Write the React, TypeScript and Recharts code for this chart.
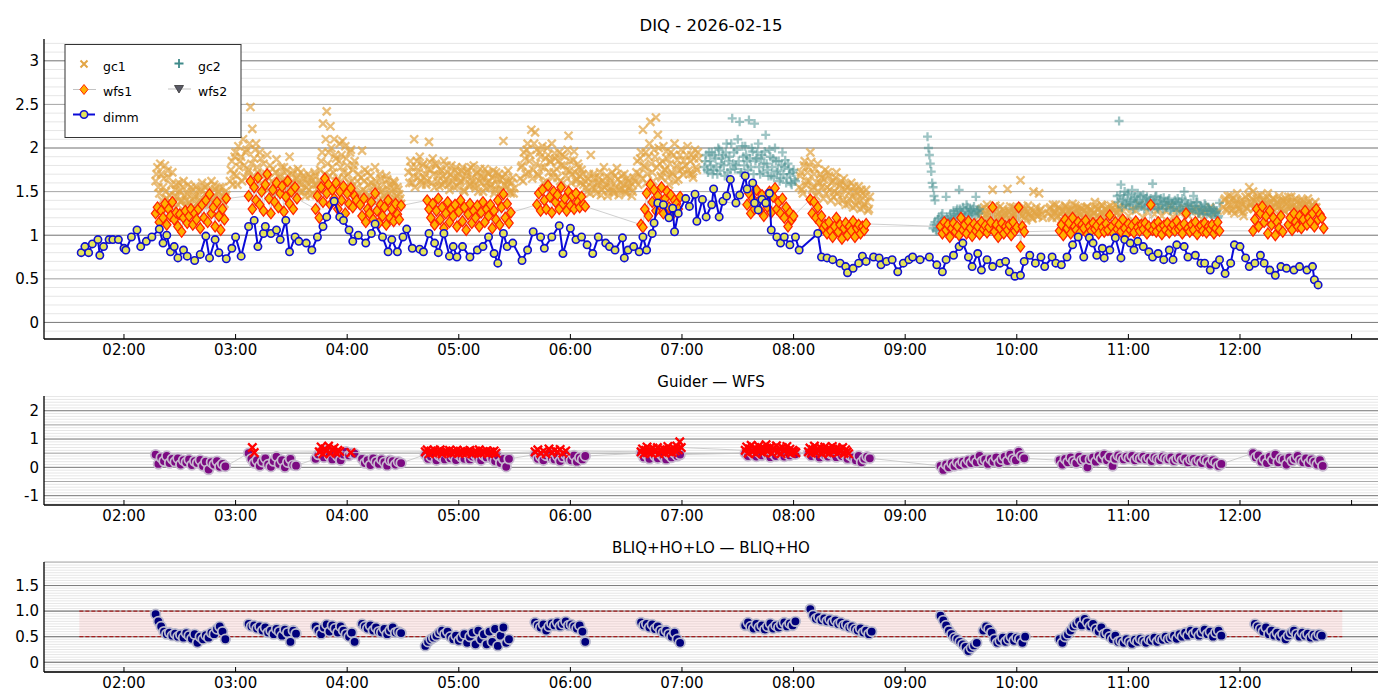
import React from 'react';
import { ScatterChart, Scatter, XAxis, YAxis, CartesianGrid, ReferenceArea, ReferenceLine } from 'recharts';

// times are minutes after 00:00 UT; a segment is [start minute, step in minutes, values]
type Seg = [number, number, number[]];
type Pt = { t: number; v: number };

const timeTicks = [120, 180, 240, 300, 360, 420, 480, 540, 600, 660, 720, 780];
const timeLabels = ['02:00', '03:00', '04:00', '05:00', '06:00', '07:00', '08:00', '09:00', '10:00', '11:00', '12:00', ''];

const diqTicks = [0, 0.5, 1, 1.5, 2, 2.5, 3];
const diqTickLabels = ['0', '0.5', '1', '1.5', '2', '2.5', '3'];
const wfsTicks = [-1, 0, 1, 2];
const bliqTicks = [0, 0.5, 1, 1.5];
const bliqTickLabels = ['0', '0.5', '1.0', '1.5'];
const bliqLimits = [0.5, 1.0];
const bliqSpan = [96, 775];

// DIMM seeing, [minute, arcsec]
const dimm: [number, number][] = [
  [97, 0.80], [99, 0.87], [101, 0.80], [103, 0.90], [106, 0.95], [107, 0.77], [109, 0.87], [112, 0.95], [114, 0.95], [117, 0.95],
  [120, 0.85], [121, 0.83], [124, 0.98], [127, 1.06], [129, 0.87], [132, 0.93], [135, 0.98], [139, 1.07], [141, 0.91], [143, 1.00],
  [145, 0.81], [147, 0.87], [149, 0.74], [152, 0.83], [154, 0.76], [158, 0.71], [161, 0.78], [164, 0.99], [166, 0.74], [169, 0.95],
  [171, 0.80], [175, 0.73], [178, 0.85], [180, 0.98], [183, 0.76], [187, 1.10], [190, 1.17], [192, 0.87], [195, 1.02], [196, 1.10],
  [199, 1.02], [202, 1.06], [204, 0.95], [207, 1.17], [209, 0.81], [212, 0.98], [214, 0.93], [218, 0.91], [221, 0.83], [224, 0.98],
  [227, 1.10], [229, 1.21], [233, 1.39], [236, 1.21], [238, 1.17], [241, 1.06], [243, 0.93], [246, 1.00], [250, 0.91], [253, 1.02],
  [255, 1.13], [259, 0.98], [262, 0.81], [264, 0.95], [267, 0.81], [270, 0.98], [272, 1.07], [275, 0.85], [279, 0.84], [281, 0.81],
  [284, 1.02], [287, 0.91], [289, 0.80], [292, 1.02], [295, 0.76], [297, 0.87], [299, 0.75], [302, 0.87], [306, 0.75], [310, 0.83],
  [313, 0.87], [316, 0.98], [319, 0.79], [321, 0.68], [324, 1.02], [326, 0.87], [329, 0.91], [334, 0.71], [337, 0.83], [340, 1.04],
  [344, 0.98], [346, 0.85], [350, 0.98], [354, 1.11], [356, 0.79], [360, 1.08], [363, 0.95], [366, 0.98], [369, 0.89], [372, 0.79],
  [375, 0.98], [379, 0.91], [381, 0.87], [384, 0.83], [388, 0.97], [389, 0.74], [391, 0.83], [394, 0.87], [397, 0.81], [399, 0.98],
  [401, 0.83], [404, 1.02], [405, 1.14], [407, 1.37], [410, 1.35], [413, 1.20], [415, 1.31], [416, 1.04], [418, 1.25], [422, 1.42],
  [424, 1.33], [427, 1.47], [428, 1.16], [431, 1.41], [433, 1.21], [436, 1.35], [437, 1.53], [440, 1.21], [442, 1.39], [444, 1.45],
  [446, 1.64], [449, 1.37], [451, 1.46], [454, 1.68], [455, 1.53], [458, 1.60], [459, 1.37], [461, 1.29], [463, 1.41], [465, 1.37],
  [467, 1.48], [468, 1.06], [471, 0.98], [473, 0.91], [475, 0.98], [478, 0.89], [481, 0.98], [483, 0.83], [493, 1.02], [495, 0.75],
  [498, 0.74], [501, 0.72], [505, 0.68], [508, 0.64], [509, 0.57], [512, 0.62], [515, 0.68], [517, 0.76], [519, 0.70], [523, 0.75],
  [526, 0.74], [527, 0.66], [530, 0.70], [533, 0.72], [536, 0.58], [539, 0.68], [542, 0.72], [544, 0.75], [548, 0.72], [553, 0.75],
  [557, 0.66], [560, 0.58], [562, 0.72], [566, 0.77], [569, 0.87], [571, 0.91], [574, 0.75], [576, 0.64], [579, 0.79], [581, 0.60],
  [584, 0.72], [587, 0.64], [591, 0.68], [594, 0.70], [596, 0.58], [599, 0.53], [602, 0.54], [604, 0.70], [607, 0.77], [610, 0.68],
  [613, 0.75], [615, 0.64], [619, 0.75], [621, 0.68], [624, 0.66], [627, 0.75], [630, 0.89], [633, 0.98], [636, 0.75], [639, 0.97],
  [641, 0.91], [643, 0.77], [646, 0.85], [647, 0.74], [650, 0.83], [653, 0.97], [656, 0.74], [658, 0.95], [661, 0.91], [663, 0.83],
  [665, 0.93], [668, 0.87], [671, 0.81], [673, 0.75], [676, 0.79], [679, 0.72], [682, 0.83], [684, 0.72], [686, 0.89], [690, 0.87],
  [692, 0.75], [696, 0.77], [699, 0.68], [701, 0.68], [704, 0.60], [707, 0.66], [709, 0.72], [712, 0.56], [715, 0.68], [717, 0.89],
  [720, 0.87], [723, 0.74], [725, 0.64], [728, 0.68], [731, 0.77], [733, 0.68], [736, 0.60], [739, 0.54], [742, 0.64], [745, 0.62],
  [749, 0.60], [752, 0.64], [756, 0.60], [759, 0.64], [760, 0.49], [762, 0.43],
];

const gc1Segs: Seg[] = [
  [137, 1, [1.62, 1.78, 1.48, 1.70, 1.55, 1.80, 1.42, 1.66, 1.38, 1.72, 1.45, 1.58, 1.35, 1.50, 1.40, 1.62, 1.33, 1.47, 1.38, 1.55, 1.32, 1.44, 1.36, 1.52, 1.40, 1.60, 1.35, 1.48, 1.57, 1.38, 1.62, 1.45, 1.53, 1.33, 1.50, 1.42, 1.55, 1.36, 1.46]],
  [137.5, 1, [1.70, 1.55, 1.82, 1.40, 1.65, 1.50, 1.74, 1.46, 1.58, 1.36, 1.52, 1.44, 1.60, 1.38, 1.55, 1.46, 1.40, 1.58, 1.34, 1.50, 1.42, 1.56, 1.30, 1.46, 1.52, 1.38, 1.55, 1.42, 1.35, 1.50, 1.40, 1.58, 1.37, 1.48, 1.55, 1.33, 1.44, 1.50]],
  [177, 1, [1.62, 1.85, 1.70, 1.95, 1.58, 1.78, 1.90, 2.10, 1.66, 1.98, 1.75, 2.47, 2.22, 1.88, 2.05, 1.72, 1.95, 1.60, 1.82]],
  [177.5, 1, [1.75, 1.58, 1.90, 1.68, 2.02, 1.85, 1.62, 1.80, 1.95, 1.72, 2.05, 1.82, 1.68, 1.98, 1.78, 1.62, 1.88, 1.70]],
  [196, 1, [1.55, 1.92, 1.65, 1.48, 1.76, 1.58, 1.87, 1.50, 1.70, 1.62, 1.78, 1.52, 1.68, 1.90, 1.57, 1.74, 1.48, 1.66, 1.60, 1.72, 1.50, 1.64, 1.55, 1.70, 1.46, 1.62, 1.58, 1.68, 1.52]],
  [196.5, 1, [1.70, 1.52, 1.80, 1.62, 1.55, 1.72, 1.48, 1.66, 1.78, 1.56, 1.62, 1.74, 1.50, 1.60, 1.70, 1.54, 1.64, 1.76, 1.50, 1.58, 1.68, 1.45, 1.60, 1.52, 1.66, 1.48, 1.72, 1.58]],
  [225, 1, [1.62, 1.85, 2.28, 1.70, 2.42, 1.95, 2.25, 1.78, 2.10, 1.88, 1.65, 2.05, 1.92, 1.72, 2.02, 1.80, 1.60, 1.98, 1.75, 1.85]],
  [225.5, 1, [1.75, 1.95, 1.58, 2.10, 1.82, 1.68, 2.00, 1.72, 1.92, 1.62, 1.85, 1.78, 2.08, 1.66, 1.88, 1.70, 1.95, 1.62, 1.80]],
  [245, 1, [1.55, 1.70, 1.45, 1.97, 1.62, 1.50, 1.72, 1.42, 1.60, 1.48, 1.78, 1.55, 1.40, 1.65, 1.52, 1.45, 1.68, 1.38, 1.58, 1.50, 1.62, 1.42, 1.55, 1.47, 1.36]],
  [245.5, 1, [1.62, 1.48, 1.66, 1.52, 1.75, 1.44, 1.58, 1.68, 1.40, 1.56, 1.62, 1.46, 1.70, 1.50, 1.58, 1.42, 1.64, 1.48, 1.55, 1.40, 1.60, 1.45, 1.52, 1.42]],
  [273, 1, [1.72, 1.85, 1.60, 2.10, 1.78, 1.66, 1.90, 1.58, 1.82, 1.70, 1.62, 2.07, 1.75, 1.88, 1.55, 1.80, 1.68, 1.76, 1.58, 1.85, 1.64, 1.72, 1.52, 1.80, 1.66, 1.74, 1.56, 1.70, 1.62, 1.78, 1.50, 1.68, 1.75, 1.58, 1.66, 1.80, 1.54, 1.72, 1.62, 1.68, 1.50, 1.76, 1.60, 1.70, 1.55, 1.66, 1.48, 1.72, 1.58, 1.64, 1.52, 2.08, 1.70, 1.56, 1.62, 1.48, 1.66, 1.54]],
  [273.5, 1, [1.60, 1.78, 1.68, 1.55, 1.85, 1.72, 1.62, 1.80, 1.66, 1.58, 1.76, 1.84, 1.60, 1.70, 1.82, 1.62, 1.56, 1.74, 1.68, 1.60, 1.80, 1.58, 1.70, 1.62, 1.55, 1.78, 1.66, 1.60, 1.74, 1.52, 1.64, 1.72, 1.56, 1.78, 1.62, 1.58, 1.70, 1.50, 1.76, 1.60, 1.66, 1.54, 1.72, 1.62, 1.58, 1.74, 1.52, 1.64, 1.70, 1.50, 1.66, 1.58, 1.62, 1.74, 1.50, 1.60, 1.48]],
  [333, 1, [1.65, 1.80, 1.95, 1.70, 2.05, 1.85, 2.21, 1.75, 2.18, 1.98, 1.68, 1.90, 2.02, 1.78, 1.62, 1.92, 1.85, 2.05, 1.72, 1.88, 1.66, 1.95, 1.80, 1.60, 1.90, 1.75, 2.14, 1.85, 1.70, 1.96, 1.62, 1.82, 1.68, 1.75, 1.58]],
  [333.5, 1, [1.78, 1.62, 1.88, 1.98, 1.72, 1.92, 1.65, 2.05, 1.82, 1.70, 1.95, 1.78, 1.60, 1.88, 2.00, 1.72, 1.84, 1.66, 1.94, 1.76, 1.85, 1.62, 1.92, 1.80, 1.68, 1.98, 1.74, 1.60, 1.86, 1.72, 1.64, 1.78, 1.60, 1.70]],
  [368, 1, [1.62, 1.50, 1.70, 1.92, 1.55, 1.66, 1.48, 1.60, 1.72, 1.52, 1.78, 1.58, 1.45, 1.65, 1.55, 1.50, 1.68, 1.77, 1.46, 1.60, 1.53, 1.70, 1.48, 1.62, 1.56, 1.45, 1.66]],
  [368.5, 1, [1.55, 1.65, 1.48, 1.60, 1.70, 1.52, 1.58, 1.66, 1.46, 1.62, 1.55, 1.68, 1.50, 1.60, 1.72, 1.48, 1.56, 1.64, 1.52, 1.68, 1.58, 1.50, 1.65, 1.54, 1.60, 1.50]],
  [395, 1, [1.62, 1.85, 1.70, 1.95, 2.21, 1.78, 1.60, 1.90, 2.30, 1.72, 1.98, 2.35, 2.15, 1.82, 1.66, 2.02, 1.75, 1.88, 1.58, 1.95, 1.70, 2.05, 1.80, 1.64, 1.92, 1.76, 1.85]],
  [395.5, 1, [1.72, 1.58, 1.88, 1.65, 1.80, 1.95, 1.70, 2.05, 1.82, 1.62, 1.90, 1.78, 2.00, 1.68, 1.85, 1.75, 1.96, 1.66, 1.82, 1.72, 1.92, 1.62, 1.86, 1.74, 1.98, 1.70]],
  [422, 1, [1.80, 2.02, 1.70, 1.92, 1.66, 1.98, 1.75, 1.88]],
  [422.5, 1, [1.92, 1.74, 1.85, 1.70, 1.88, 1.78, 1.95]],
  [483, 1, [1.55, 1.72, 1.48, 1.85, 1.62, 1.78, 1.95, 1.52, 1.70, 1.45, 1.82, 1.60, 1.66, 1.42, 1.75, 1.55, 1.68, 1.40, 1.62, 1.50, 1.72, 1.38, 1.58, 1.46, 1.65, 1.35, 1.55, 1.42, 1.60, 1.32, 1.50, 1.40, 1.56, 1.30, 1.48, 1.36, 1.52, 1.28, 1.44]],
  [483.5, 1, [1.68, 1.52, 1.80, 1.58, 1.72, 1.62, 1.84, 1.55, 1.76, 1.60, 1.50, 1.70, 1.56, 1.64, 1.48, 1.72, 1.52, 1.60, 1.44, 1.66, 1.48, 1.56, 1.62, 1.40, 1.52, 1.58, 1.36, 1.50, 1.44, 1.56, 1.34, 1.48, 1.40, 1.52, 1.32, 1.45, 1.38, 1.30]],
  [580, 1, [1.22, 1.30, 1.18, 1.28, 1.35, 1.20, 1.26, 1.52, 1.16, 1.30, 1.24, 1.33, 1.18, 1.28, 1.22, 1.53, 1.26, 1.18, 1.32, 1.24, 1.20, 1.30, 1.63, 1.22, 1.28, 1.17, 1.34, 1.25, 1.20, 1.50, 1.27, 1.22, 1.48, 1.30, 1.20]],
  [580.5, 1, [1.28, 1.20, 1.32, 1.24, 1.18, 1.30, 1.22, 1.27, 1.34, 1.19, 1.26, 1.21, 1.30, 1.25, 1.18, 1.28, 1.33, 1.22, 1.26, 1.30, 1.18, 1.25, 1.29, 1.33, 1.21, 1.27, 1.24, 1.30, 1.19, 1.26, 1.32, 1.22, 1.28, 1.24]],
  [617, 1, [1.25, 1.32, 1.20, 1.28, 1.35, 1.22, 1.30, 1.18, 1.27, 1.34, 1.22, 1.29, 1.24, 1.36, 1.20, 1.28, 1.32, 1.23, 1.30, 1.19, 1.26, 1.33, 1.21, 1.29, 1.25, 1.38, 1.22, 1.30, 1.26, 1.34, 1.20, 1.28, 1.32, 1.24, 1.30, 1.22, 1.35, 1.26, 1.30]],
  [617.5, 1, [1.30, 1.22, 1.35, 1.26, 1.20, 1.32, 1.24, 1.29, 1.21, 1.33, 1.27, 1.19, 1.30, 1.25, 1.34, 1.22, 1.27, 1.31, 1.20, 1.28, 1.32, 1.24, 1.30, 1.22, 1.26, 1.33, 1.29, 1.21, 1.35, 1.25, 1.30, 1.23, 1.27, 1.34, 1.21, 1.29, 1.25, 1.32]],
  [656, 2, [1.25, 1.32, 1.22, 1.30, 1.28, 1.35, 1.20, 1.27, 1.33, 1.24, 1.30, 1.22, 1.28, 1.34, 1.21, 1.29, 1.25, 1.31, 1.23, 1.27, 1.30, 1.22, 1.28, 1.25, 1.32, 1.24, 1.28]],
  [711, 1, [1.32, 1.42, 1.28, 1.38, 1.45, 1.30, 1.25, 1.40, 1.34, 1.28, 1.36, 1.22, 1.44, 1.30, 1.55, 1.38, 1.50, 1.32, 1.42, 1.28, 1.46, 1.35, 1.40, 1.30, 1.48, 1.36, 1.26, 1.42, 1.33, 1.38, 1.45, 1.30, 1.40, 1.28, 1.36, 1.44, 1.32, 1.38, 1.25, 1.42, 1.30, 1.36, 1.28, 1.40, 1.33, 1.26, 1.38, 1.30, 1.35, 1.28, 1.32]],
  [711.5, 1, [1.40, 1.30, 1.45, 1.35, 1.28, 1.42, 1.36, 1.48, 1.30, 1.40, 1.26, 1.38, 1.32, 1.46, 1.35, 1.42, 1.30, 1.38, 1.45, 1.34, 1.28, 1.40, 1.36, 1.44, 1.30, 1.38, 1.42, 1.28, 1.36, 1.32, 1.40, 1.35, 1.28, 1.42, 1.38, 1.30, 1.44, 1.34, 1.30, 1.38, 1.26, 1.40, 1.34, 1.30, 1.36, 1.42, 1.28, 1.34, 1.30, 1.38]],
];

const gc2Segs: Seg[] = [
  [432, 1, [1.78, 1.92, 1.72, 1.85, 1.95, 1.75, 1.88, 1.70, 1.98, 1.82, 1.92, 1.68, 2.05, 1.85, 1.75, 2.34, 1.95, 1.80, 2.10, 2.30, 1.72, 1.90, 2.02, 1.85, 2.32, 1.78, 1.96, 2.28, 1.88, 2.05, 1.70, 1.92, 1.82, 2.15, 1.75, 1.98, 1.68, 1.88, 2.00, 1.72, 1.85, 1.65, 1.95, 1.78, 1.60, 1.82, 1.70, 1.58, 1.75, 1.62]],
  [432.5, 1, [1.85, 1.75, 1.95, 1.80, 1.70, 1.92, 1.78, 2.00, 1.74, 1.88, 1.80, 1.95, 1.72, 1.90, 2.05, 1.82, 1.76, 1.98, 1.85, 1.72, 2.02, 1.80, 1.92, 1.75, 1.88, 2.00, 1.70, 1.85, 1.95, 1.78, 1.88, 1.72, 1.96, 1.82, 1.68, 1.90, 1.78, 1.66, 1.85, 1.74, 1.62, 1.80, 1.70, 1.86, 1.66, 1.76, 1.60, 1.72, 1.64]],
  [552, 0.5, [2.13, 2.0, 1.92, 1.82, 1.73, 1.6, 1.55, 1.45, 1.4]],
  [555, 1, [1.08, 1.15, 1.05, 1.20, 1.12, 1.25, 1.10, 1.44, 1.18, 1.22, 1.14, 1.28, 1.20, 1.30, 1.52, 1.24, 1.32, 1.22, 1.35, 1.26, 1.30, 1.24, 1.33, 1.44, 1.28, 1.30]],
  [555.5, 1, [1.12, 1.06, 1.18, 1.10, 1.22, 1.08, 1.16, 1.20, 1.14, 1.25, 1.18, 1.24, 1.28, 1.22, 1.30, 1.26, 1.20, 1.28, 1.32, 1.24, 1.27, 1.30, 1.22, 1.28, 1.25]],
  [654, 1, [1.45, 2.31, 1.58, 1.40, 1.50, 1.35, 1.46, 1.38, 1.52, 1.42, 1.36, 1.48, 1.40, 1.33, 1.46, 1.38, 1.44, 1.32, 1.42, 1.59, 1.36, 1.45, 1.30, 1.40, 1.35, 1.43, 1.32, 1.38, 1.42, 1.30, 1.36, 1.40, 1.28, 1.38, 1.33, 1.42, 1.50, 1.30, 1.36, 1.27, 1.34, 1.45, 1.30, 1.38, 1.25, 1.33, 1.28, 1.36, 1.24, 1.32, 1.28, 1.22, 1.30, 1.26, 1.20, 1.37]],
  [654.5, 1, [1.38, 1.46, 1.32, 1.42, 1.36, 1.48, 1.34, 1.40, 1.30, 1.44, 1.38, 1.32, 1.45, 1.36, 1.30, 1.42, 1.35, 1.40, 1.30, 1.38, 1.44, 1.32, 1.36, 1.42, 1.30, 1.38, 1.34, 1.40, 1.28, 1.36, 1.32, 1.38, 1.42, 1.30, 1.36, 1.28, 1.40, 1.34, 1.30, 1.37, 1.28, 1.33, 1.38, 1.26, 1.32, 1.30, 1.24, 1.34, 1.28, 1.30, 1.24, 1.32, 1.26, 1.28, 1.22]],
];

const wfs1Segs: Seg[] = [
  [137, 1, [1.25, 1.32, 1.15, 1.28, 1.20, 1.36, 1.12, 1.30, 1.22, 1.38, 1.18, 1.26, 1.10, 1.24, 1.04, 1.20, 1.28, 1.14, 1.22, 1.30, 1.12, 1.25, 1.18, 1.30, 1.08, 1.35, 1.20, 1.40, 1.15, 1.47, 1.25, 1.32, 1.10, 1.38, 1.22, 1.06, 1.30, 1.18, 1.42]],
  [187, 1, [1.45, 1.62, 1.30, 1.55, 1.40, 1.66, 1.35, 1.50, 1.28, 1.58, 1.70, 1.42, 1.25, 1.52, 1.38, 1.60, 1.32, 1.48, 1.56, 1.27, 1.44, 1.62, 1.36, 1.50, 1.30, 1.55, 1.42]],
  [223, 1, [1.30, 1.45, 1.20, 1.55, 1.38, 1.65, 1.48, 1.58, 1.35, 1.52, 1.42, 1.60, 1.30, 1.50, 1.40, 1.56, 1.25, 1.48, 1.36, 1.54, 1.32, 1.45, 1.40]],
  [247, 1, [1.35, 1.22, 1.42, 1.15, 1.30, 1.25, 1.38, 1.18, 1.48, 1.28, 1.14, 1.35, 1.22, 1.32, 1.12, 1.40, 1.20, 1.30, 1.16, 1.36, 1.24, 1.18, 1.34]],
  [283, 1, [1.40, 1.30, 1.20, 1.36, 1.12, 1.28, 1.42, 1.18, 1.32, 1.08, 1.25, 1.38, 1.15, 1.30, 1.22, 1.35, 1.10, 1.27, 1.40, 1.16, 1.32, 1.06, 1.24, 1.36, 1.14, 1.28, 1.20, 1.34, 1.10, 1.26, 1.38, 1.15, 1.30, 1.22, 1.35, 1.08, 1.28, 1.18, 1.40, 1.12, 1.32, 1.47, 1.20, 1.36, 1.14, 1.26]],
  [342, 1, [1.35, 1.48, 1.28, 1.52, 1.40, 1.30, 1.57, 1.44, 1.26, 1.50, 1.38, 1.46, 1.30, 1.55, 1.36, 1.42, 1.28, 1.50, 1.34, 1.45, 1.30, 1.48, 1.38, 1.32, 1.44, 1.35, 1.33]],
  [398, 1, [1.12, 1.09, 1.30, 1.48, 1.22, 1.58, 1.38, 1.52, 1.28, 1.45, 1.35, 1.55, 1.25, 1.42, 1.50, 1.32, 1.46, 1.24, 1.40, 1.36, 1.30, 1.44]],
  [455, 1, [1.35, 1.48, 1.25, 1.42, 1.30, 1.52, 1.38, 1.28, 1.46, 1.22, 1.40, 1.32, 1.50, 1.26, 1.44, 1.54, 1.30, 1.38, 1.25, 1.42, 1.20, 1.32, 1.10, 1.26, 1.18, 1.22]],
  [489, 1, [1.41, 1.25, 1.38, 1.20, 1.32, 1.15, 1.22, 1.08, 1.12, 1.02, 1.15, 1.05, 0.98, 1.10, 1.20, 1.04, 1.12, 0.96, 1.08, 1.14, 1.00, 1.10, 1.05, 1.16, 0.98, 1.08, 1.12, 1.02, 1.10, 1.06, 1.13]],
  [559, 1, [1.10, 1.02, 1.15, 1.06, 1.12, 0.98, 1.08, 1.14, 1.04, 1.10, 1.00, 1.20, 1.06, 1.12, 1.02, 1.16, 1.08, 0.99, 1.13, 1.05, 1.10, 1.01, 1.15, 1.07, 1.11, 1.03, 1.09, 1.15, 1.32, 1.04, 1.12, 0.98, 1.08, 1.14, 1.02, 1.10, 1.06, 1.12, 1.00, 1.15, 1.05, 1.09, 1.32, 0.87, 1.10, 1.04]],
  [623, 1, [1.05, 1.12, 1.00, 1.18, 1.08, 1.14, 1.02, 1.20, 1.10, 1.06, 1.15, 1.03, 1.12, 1.08, 1.17, 1.01, 1.10, 1.05, 1.14, 1.07, 1.11, 1.02, 1.16, 1.09, 1.04, 1.13, 1.06, 1.23, 1.10, 1.02, 1.15, 1.07, 1.12, 1.04, 1.18, 1.08, 1.01, 1.13, 1.06, 1.11, 1.03, 1.16, 1.09, 1.05, 1.12, 1.07, 1.14, 1.02, 1.10, 1.35, 1.06, 1.12, 1.04, 1.15, 1.08, 1.01, 1.11, 1.06, 1.14, 1.03, 1.09, 1.12, 1.05, 1.16, 1.07, 1.10, 1.02, 1.13, 1.25, 1.08, 1.04, 1.12, 1.06, 1.15, 1.01, 1.09, 1.11, 1.05, 1.14, 1.03, 1.10, 1.07, 1.12, 1.02, 1.08, 1.15, 1.05]],
  [727, 1, [1.05, 1.18, 1.30, 1.10, 1.25, 1.33, 1.15, 1.22, 1.02, 1.28, 1.12, 1.20, 1.00, 1.15, 1.08, 1.22, 1.04]],
  [746, 1, [1.12, 1.20, 1.06, 1.25, 1.15, 1.10, 1.22, 1.08, 1.18, 1.28, 1.12, 1.20, 1.15, 1.25, 1.10, 1.30, 1.18, 1.24, 1.20, 1.08]],
];

// Guider - WFS
const guiderSegs: Seg[] = [
  [137, 1.5, [0.45, 0.12, 0.35, 0.22, 0.40, 0.15, 0.30, 0.20, 0.32, 0.10, 0.25, 0.18, 0.28, 0.08, 0.22, 0.15, 0.26, 0.05, 0.20, -0.08, 0.18, 0.10, 0.22, 0.02, 0.12, 0.03]],
  [187, 1.5, [0.50, 0.30, 0.15, 0.25, 0.05, 0.20, 0.32, 0.10, 0.02, 0.22, 0.38, 0.12, 0.25, 0.00, 0.18, 0.30, 0.08, 0.06]],
  [223, 1.5, [0.30, 0.45, 0.55, 0.35, 0.60, 0.40, 0.28, 0.50, 0.38, 0.25, 0.45, 0.55, 0.42, 0.50, 0.48]],
  [248, 1.5, [0.30, 0.15, 0.25, 0.08, 0.32, 0.20, 0.12, 0.28, 0.18, 0.06, 0.25, 0.22, 0.10, 0.20, 0.15]],
  [282, 1.5, [0.45, 0.30, 0.38, 0.50, 0.25, 0.42, 0.35, 0.28, 0.48, 0.32, 0.40, 0.26, 0.45, 0.36, 0.30, 0.50, 0.28, 0.38, 0.44, 0.32, 0.25, 0.42, 0.35, 0.48, 0.30, 0.22, 0.40, 0.15, 0.30, 0.02, 0.30]],
  [341, 1.5, [0.45, 0.30, 0.38, 0.25, 0.42, 0.50, 0.32, 0.28, 0.40, 0.22, 0.36, 0.45, 0.30, 0.25, 0.42, 0.20, 0.35, 0.28, 0.40]],
  [398, 1.5, [0.50, 0.35, 0.45, 0.30, 0.55, 0.40, 0.32, 0.48, 0.38, 0.28, 0.45, 0.35, 0.50, 0.40, 0.45]],
  [454, 1.5, [0.50, 0.40, 0.55, 0.45, 0.38, 0.52, 0.42, 0.60, 0.45, 0.36, 0.50, 0.40, 0.55, 0.44, 0.38, 0.48, 0.42, 0.52, 0.46]],
  [488, 1.5, [0.50, 0.40, 0.55, 0.45, 0.35, 0.50, 0.42, 0.38, 0.48, 0.44, 0.36, 0.52, 0.40, 0.46, 0.30, 0.42, 0.35, 0.25, 0.40, 0.18, 0.30, 0.38, 0.32]],
  [559, 1.5, [0.05, -0.09, 0.10, 0.00, 0.15, 0.05, 0.18, 0.08, 0.20, 0.12, 0.25, 0.15, 0.30, 0.18, 0.40, 0.22, 0.28, 0.12, 0.30, 0.20, 0.35, 0.15, 0.28, 0.38, 0.22, 0.45, 0.30, 0.25, 0.55, 0.40, 0.32]],
  [623, 1.5, [0.25, 0.10, 0.30, 0.18, 0.35, 0.22, 0.15, 0.38, 0.25, 0.30, 0.00, 0.28, 0.35, 0.20, 0.40, 0.30, 0.45, 0.25, 0.38, 0.05, 0.30, 0.42, 0.35, 0.28, 0.38, 0.32, 0.40, 0.25, 0.35, 0.30, 0.38, 0.28, 0.34, 0.22, 0.36, 0.30, 0.26, 0.38, 0.32, 0.28, 0.35, 0.22, 0.30, 0.36, 0.25, 0.32, 0.18, 0.28, 0.30, 0.20, 0.26, 0.15, 0.28, 0.22, 0.10, 0.25, 0.18, 0.05, 0.12]],
  [727, 1.5, [0.50, 0.35, 0.42, 0.20, 0.30, 0.15, 0.38, 0.25, 0.45, 0.18, 0.32, 0.28, 0.10, 0.35, 0.22, 0.30, 0.40, 0.25, 0.18, 0.32, 0.15, 0.28, 0.20, 0.10, 0.25, 0.05]],
];

const wfsRedSegs: Seg[] = [
  [189, 1, [0.70, 0.52]],
  [225, 1, [0.55, 0.72, 0.48, 0.65, 0.58, 0.75, 0.50, 0.62, 0.68, 0.52, 0.60, 0.56]],
  [242, 1, [0.52]],
  [282, 1, [0.55, 0.62, 0.48, 0.58, 0.52, 0.60, 0.50, 0.56, 0.62, 0.48, 0.55, 0.58, 0.52, 0.60, 0.50, 0.57, 0.53, 0.61, 0.49, 0.56, 0.52, 0.58, 0.50, 0.55, 0.60, 0.48, 0.54, 0.58, 0.51, 0.62, 0.50, 0.56, 0.53, 0.59, 0.48, 0.55, 0.52, 0.58, 0.50]],
  [341, 1.5, [0.55, 0.62, 0.50, 0.58, 0.48, 0.65, 0.52, 0.60, 0.55, 0.63, 0.50, 0.58]],
  [398, 0.8, [0.55, 0.65, 0.48, 0.60, 0.72, 0.52, 0.62, 0.50, 0.68, 0.56, 0.58, 0.70, 0.48, 0.62, 0.54, 0.66, 0.50, 0.60, 0.74, 0.55, 0.63, 0.52, 0.68, 0.58, 0.75, 0.62, 0.90, 0.70]],
  [454, 0.8, [0.60, 0.72, 0.50, 0.65, 0.78, 0.55, 0.68, 0.48, 0.62, 0.75, 0.58, 0.70, 0.52, 0.66, 0.80, 0.56, 0.64, 0.72, 0.50, 0.68, 0.60, 0.76, 0.54, 0.66, 0.48, 0.70, 0.58, 0.62, 0.74, 0.55, 0.64, 0.50, 0.60, 0.56, 0.52]],
  [488, 0.8, [0.55, 0.68, 0.50, 0.62, 0.75, 0.52, 0.65, 0.58, 0.70, 0.48, 0.60, 0.72, 0.54, 0.66, 0.50, 0.63, 0.74, 0.56, 0.60, 0.68, 0.52, 0.64, 0.58, 0.70, 0.50, 0.62, 0.55, 0.48]],
];

// BLIQ+HO+LO - BLIQ+HO
const bliqSegs: Seg[] = [
  [137, 1.5, [0.94, 0.80, 0.70, 0.60, 0.55, 0.58, 0.52, 0.56, 0.50, 0.54, 0.48, 0.57, 0.52, 0.46, 0.55, 0.38, 0.50, 0.45, 0.53, 0.48, 0.58, 0.55, 0.65, 0.70, 0.60, 0.45]],
  [187, 1.5, [0.75, 0.70, 0.72, 0.66, 0.70, 0.62, 0.68, 0.58, 0.62, 0.55, 0.65, 0.60, 0.52, 0.64, 0.58, 0.40, 0.62, 0.56]],
  [223, 1.5, [0.70, 0.62, 0.55, 0.68, 0.74, 0.60, 0.72, 0.66, 0.58, 0.70, 0.62, 0.55, 0.50, 0.58, 0.40]],
  [248, 1.5, [0.75, 0.70, 0.66, 0.72, 0.62, 0.68, 0.60, 0.58, 0.65, 0.55, 0.62, 0.68, 0.58, 0.60, 0.57]],
  [282, 1.5, [0.32, 0.40, 0.45, 0.48, 0.52, 0.58, 0.62, 0.55, 0.60, 0.50, 0.45, 0.52, 0.42, 0.48, 0.55, 0.38, 0.50, 0.58, 0.35, 0.62, 0.45, 0.55, 0.35, 0.60, 0.40, 0.65, 0.32, 0.52, 0.68, 0.38, 0.45]],
  [341, 1.5, [0.78, 0.72, 0.68, 0.74, 0.62, 0.70, 0.76, 0.72, 0.78, 0.70, 0.75, 0.80, 0.72, 0.74, 0.70, 0.66, 0.72, 0.60, 0.40]],
  [398, 1.5, [0.78, 0.72, 0.75, 0.68, 0.74, 0.65, 0.70, 0.62, 0.58, 0.62, 0.55, 0.50, 0.58, 0.45, 0.38]],
  [454, 1.5, [0.72, 0.78, 0.70, 0.66, 0.75, 0.68, 0.72, 0.64, 0.70, 0.76, 0.66, 0.72, 0.68, 0.74, 0.78, 0.70, 0.76, 0.72, 0.80]],
  [489, 1.5, [1.04, 0.92, 0.85, 0.88, 0.82, 0.86, 0.80, 0.84, 0.78, 0.82, 0.75, 0.78, 0.72, 0.74, 0.68, 0.70, 0.65, 0.62, 0.66, 0.58, 0.62, 0.55, 0.60]],
  [559, 1.5, [0.91, 0.82, 0.72, 0.62, 0.55, 0.48, 0.45, 0.40, 0.35, 0.30, 0.22, 0.28, 0.33, 0.38]],
  [582, 1.5, [0.62, 0.70, 0.65, 0.58, 0.45, 0.38, 0.42, 0.48, 0.40, 0.45, 0.50, 0.42, 0.48, 0.45, 0.38, 0.50]],
  [623, 1.5, [0.45, 0.38, 0.50, 0.55, 0.62, 0.70, 0.75, 0.80, 0.72, 0.85, 0.78, 0.70, 0.75, 0.65, 0.60, 0.68, 0.55, 0.58, 0.50, 0.45, 0.52, 0.40, 0.42, 0.38, 0.45, 0.40, 0.36, 0.44, 0.40, 0.46, 0.42, 0.38, 0.45, 0.42, 0.48, 0.40, 0.46, 0.44, 0.50, 0.45, 0.48, 0.52, 0.46, 0.55, 0.50, 0.58, 0.52, 0.62, 0.55, 0.60, 0.52, 0.58, 0.64, 0.55, 0.60, 0.50, 0.58, 0.62, 0.52]],
  [728, 1.5, [0.75, 0.70, 0.65, 0.60, 0.68, 0.55, 0.62, 0.52, 0.58, 0.50, 0.55, 0.45, 0.52, 0.58, 0.62, 0.55, 0.50, 0.58, 0.52, 0.56, 0.48, 0.54, 0.50, 0.55, 0.52]],
];

const segPoints = ([t0, dt, vals]: Seg): Pt[] => vals.map((v, i) => ({ t: Math.round((t0 + i * dt) * 100) / 100, v }));
const allPoints = (segs: Seg[]): Pt[] => segs.flatMap(segPoints);

const dimmData = dimm.map(([t, v]) => ({ t, v }));
const gc1Data = allPoints(gc1Segs);
const gc2Data = allPoints(gc2Segs);
const wfs1Data = allPoints(wfs1Segs);
const guiderData = allPoints(guiderSegs);
const wfsRedData = allPoints(wfsRedSegs);
const bliqData = allPoints(bliqSegs);

const FONT = '"DejaVu Sans", sans-serif';
const X_DOMAIN: [number, number] = [77, 794.2];

// grid line positions (styling only)
const steps = (from: number, to: number, step: number) => {
  const out: number[] = [];
  for (let i = Math.round(from / step); i * step <= to + 1e-9; i++) out.push(Math.round(i * step * 1000) / 1000);
  return out;
};

const xShape = (color: string, r: number, sw: number, op: number) => (p: any) => {
  const { cx, cy } = p;
  if (cx == null || cy == null) return <g />;
  return <path d={`M${cx - r} ${cy - r}L${cx + r} ${cy + r}M${cx - r} ${cy + r}L${cx + r} ${cy - r}`} stroke={color} strokeWidth={sw} strokeOpacity={op} fill="none" />;
};
const plusShape = (color: string, r: number, sw: number, op: number) => (p: any) => {
  const { cx, cy } = p;
  if (cx == null || cy == null) return <g />;
  return <path d={`M${cx - r} ${cy}L${cx + r} ${cy}M${cx} ${cy - r}L${cx} ${cy + r}`} stroke={color} strokeWidth={sw} strokeOpacity={op} fill="none" />;
};
const diamondShape = (fill: string, stroke: string, r: number) => (p: any) => {
  const { cx, cy } = p;
  if (cx == null || cy == null) return <g />;
  const w = r * 0.78;
  return <path d={`M${cx} ${cy - r}L${cx + w} ${cy}L${cx} ${cy + r}L${cx - w} ${cy}Z`} fill={fill} stroke={stroke} strokeWidth={1.25} />;
};
const dotShape = (fill: string, stroke: string, r: number, sw: number) => (p: any) => {
  const { cx, cy } = p;
  if (cx == null || cy == null) return <g />;
  return <circle cx={cx} cy={cy} r={r} fill={fill} stroke={stroke} strokeWidth={sw} />;
};

const gc1Shape = xShape('#e2a545', 4, 2.3, 0.72);
const gc2Shape = plusShape('#4c9494', 4.5, 2.3, 0.55);
const wfs1Shape = diamondShape('#ffb000', '#ff2400', 5.4);
const dimmShape = dotShape('#e3e35a', '#1010d0', 3.7, 1.6);
const guiderShape = dotShape('#7c0a82', '#c7b9cf', 4.8, 1.8);
const redShape = xShape('#ff0000', 4.2, 2.3, 1);
const bliqShape = dotShape('#00007c', '#b9b9cc', 4.8, 1.8);

const thinLine = { stroke: '#c3c3c3', strokeWidth: 0.8 };

function timeAxis() {
  return (
    <XAxis
      type="number"
      dataKey="t"
      domain={X_DOMAIN}
      allowDataOverflow
      ticks={timeTicks}
      interval={0}
      tickFormatter={(m: number) => timeLabels[timeTicks.indexOf(m)] ?? ''}
      height={30}
      axisLine={{ stroke: '#000', strokeWidth: 1.3 }}
      tickLine={{ stroke: '#000', strokeWidth: 1 }}
      tickSize={-5}
      tickMargin={10}
      tick={{ fill: '#000', fontSize: 15, fontFamily: FONT }}
    />
  );
}

function valueAxis(domain: [number, number], ticks: number[], labels?: string[]) {
  return (
    <YAxis
      type="number"
      dataKey="v"
      domain={domain}
      allowDataOverflow
      ticks={ticks}
      interval={0}
      tickFormatter={(v: number) => (labels ? labels[ticks.indexOf(v)] : String(v))}
      width={40}
      axisLine={{ stroke: '#000', strokeWidth: 1.3 }}
      tickLine={false}
      tickSize={0}
      tickMargin={5}
      tick={{ fill: '#000', fontSize: 15, fontFamily: FONT }}
    />
  );
}

function grids(minor: number[], half: number[], major: number[]) {
  return [
    <CartesianGrid key="g1" vertical={false} horizontalValues={minor} stroke="#e6e6e6" strokeWidth={1} />,
    <CartesianGrid key="g2" vertical={false} horizontalValues={half} stroke="#a9a9a9" strokeWidth={1} />,
    <CartesianGrid key="g3" vertical={false} horizontalValues={major} stroke="#7c7c7c" strokeWidth={1} />,
  ];
}

export default function App() {
  return (
    <div style={{ position: 'absolute', left: 0, top: 0, width: 1400, height: 700, background: '#fff', fontFamily: FONT }}>
      {/* DIQ */}
      <div style={{ position: 'absolute', left: 0, top: 0 }}>
        <ScatterChart width={1400} height={370} margin={{ top: 39, right: 22, bottom: 1, left: 4 }}>
          {grids(steps(-0.1, 3.2, 0.1), [0.5, 1.5, 2.5], [0, 1, 2, 3])}
          {timeAxis()}
          {valueAxis([-0.19, 3.25], diqTicks, diqTickLabels)}
          <Scatter data={gc1Data} shape={gc1Shape} isAnimationActive={false} />
          <Scatter data={gc2Data} shape={gc2Shape} isAnimationActive={false} />
          <Scatter data={wfs1Data} shape={wfs1Shape} line={thinLine} lineType="joint" isAnimationActive={false} />
          <Scatter data={dimmData} shape={dimmShape} line={{ stroke: '#0a0ad8', strokeWidth: 2 }} lineType="joint" isAnimationActive={false} />
        </ScatterChart>
      </div>

      {/* Guider - WFS */}
      <div style={{ position: 'absolute', left: 0, top: 360 }}>
        <ScatterChart width={1400} height={175} margin={{ top: 36, right: 22, bottom: 0, left: 4 }}>
          {grids(steps(-1.3, 2.5, 0.1), [-0.5, 0.5, 1.5], [-1, 0, 1, 2])}
          {timeAxis()}
          {valueAxis([-1.33, 2.52], wfsTicks)}
          <Scatter data={guiderData} shape={guiderShape} line={thinLine} lineType="joint" isAnimationActive={false} />
          <Scatter data={wfsRedData} shape={redShape} line={thinLine} lineType="joint" isAnimationActive={false} />
        </ScatterChart>
      </div>

      {/* BLIQ+HO+LO - BLIQ+HO */}
      <div style={{ position: 'absolute', left: 0, top: 530 }}>
        <ScatterChart width={1400} height={170} margin={{ top: 32, right: 22, bottom: -2, left: 4 }}>
          {grids(steps(-0.15, 1.95, 0.05), [], [0, 0.5, 1, 1.5])}
          {timeAxis()}
          {valueAxis([-0.19, 1.96], bliqTicks, bliqTickLabels)}
          <ReferenceArea x1={bliqSpan[0]} x2={bliqSpan[1]} y1={bliqLimits[0]} y2={bliqLimits[1]} fill="#f6b8b8" fillOpacity={0.3} stroke="none" />
          {bliqLimits.map((y) => (
            <ReferenceLine key={y} segment={[{ x: bliqSpan[0], y }, { x: bliqSpan[1], y }]} stroke="#a31d1d" strokeWidth={1.2} strokeDasharray="4 2" />
          ))}
          <Scatter data={bliqData} shape={bliqShape} isAnimationActive={false} />
        </ScatterChart>
      </div>

      {/* titles and legend */}
      <svg width={1400} height={700} style={{ position: 'absolute', left: 0, top: 0, pointerEvents: 'none' }} fontFamily={FONT}>
        <text x={711} y={30.5} textAnchor="middle" fontSize={16.5} fill="#000">DIQ - 2026-02-15</text>
        <text x={711} y={387} textAnchor="middle" fontSize={15} fill="#000">Guider — WFS</text>
        <text x={711} y={553} textAnchor="middle" fontSize={15} fill="#000">BLIQ+HO+LO — BLIQ+HO</text>

        <rect x={65} y={44.5} width={176} height={93} fill="#fff" stroke="#333" strokeWidth={1} />
        <path d="M80.5 60.5L87.5 67.5M80.5 67.5L87.5 60.5" stroke="#e2a545" strokeWidth={2} />
        <text x={103} y={70.5} fontSize={12.5} fill="#000">gc1</text>
        <path d="M174.5 63.5L183.5 63.5M179 59L179 68" stroke="#3f8a8a" strokeWidth={1.8} />
        <text x={198} y={70.5} fontSize={12.5} fill="#000">gc2</text>

        <line x1={73} y1={89.5} x2={96} y2={89.5} stroke="#c3c3c3" strokeWidth={1} />
        <path d="M84 84.5L88 89.5L84 94.5L80 89.5Z" fill="#ffb000" stroke="#ff2400" strokeWidth={1} />
        <text x={103} y={96} fontSize={12.5} fill="#000">wfs1</text>
        <line x1={168} y1={89} x2={191} y2={89} stroke="#c3c3c3" strokeWidth={1} />
        <path d="M174.5 85.5L183.5 85.5L179 93Z" fill="#5a5a66" stroke="#333" strokeWidth={0.8} />
        <text x={198} y={96} fontSize={12.5} fill="#000">wfs2</text>

        <line x1={73} y1={114.5} x2={95} y2={114.5} stroke="#0a0ad8" strokeWidth={2} />
        <circle cx={84} cy={114.5} r={3.7} fill="#e3e35a" stroke="#1010d0" strokeWidth={1.6} />
        <text x={103} y={121.5} fontSize={12.5} fill="#000">dimm</text>
      </svg>
    </div>
  );
}
